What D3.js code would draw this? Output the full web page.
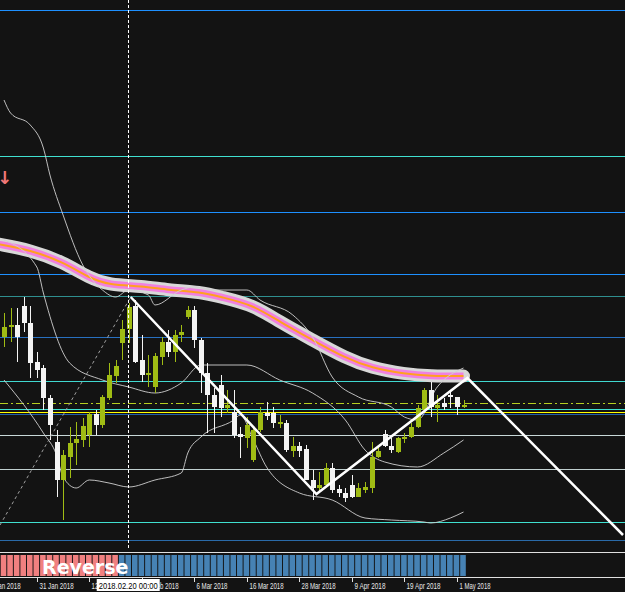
<!DOCTYPE html>
<html><head><meta charset="utf-8">
<script src="https://cdn.jsdelivr.net/npm/d3@7"></script>
<style>body{margin:0;background:#131313;overflow:hidden}</style>
</head><body>
<svg id="chart" width="625" height="592"></svg>
<script>
// candles: [open, high, low, close] in points
var candles = [
 [263,287,253,273],[273,292,258,275],[275,292,238,263],[294,303,268,277],[277,294,222,237],
 [238,248,222,230],[232,235,190,202],[202,205,160,175],[158,170,103,120],[120,150,80,145],
 [143,173,122,157],[157,178,135,161],[160,182,153,174],[165,188,153,186],[186,190,165,175],
 [175,205,172,203],[202,237,200,225],[224,240,217,234],[257,280,240,271],[271,297,257,293],
 [294,300,237,238],[240,265,218,225],[225,245,213,227],[213,247,207,244],[243,263,235,258],
 [258,270,243,248],[248,270,238,265],[265,275,258,268],[283,294,281,290],[290,294,252,260],
 [260,262,207,227],[227,237,167,205],[205,212,167,193],[215,225,183,192],[192,210,187,195],
 [188,210,162,165],[166,173,142,163],[162,183,152,175],[140,172,138,170],[170,193,168,188],
 [187,198,180,184],[187,193,172,177],[177,185,172,178],[177,180,148,150],[149,163,143,154],
 [154,158,143,149],[151,155,120,120],[120,130,100,112],[112,128,108,115],[115,137,113,132],
 [132,137,107,110],[111,115,103,107],[107,112,98,102],[115,125,102,103],[103,117,103,112],
 [110,118,107,113],[112,158,107,143],[143,153,142,149],[166,170,153,154],[154,162,147,150],
 [148,163,147,162],[162,167,157,163],[163,177,162,173],[173,195,172,192],[190,212,188,210],
 [210,218,183,193],[192,205,178,195],[197,202,190,193],[205,208,192,203],[203,203,185,193],
 [193,200,192,195]
];
var upperBand = [[0,500],[1,487],[4,475],[6,452],[7,425],[9,385],[12,335],[15,310],[17,303],[19,310],[22,305],[23,295],[27,310],[29,313],[32,310],[37,310],[39,300],[44,285],[47,263],[50,223],[54,203],[59,193],[61,183],[63,180],[66,213],[70,232]];
var middleBand = [[0,360],[5,333],[6,307],[10,237],[15,220],[19,213],[23,207],[27,217],[30,235],[37,235],[42,220],[47,207],[52,180],[55,150],[58,138],[63,133],[67,147],[70,160]];
var lowerBand = [[0,220],[6,167],[8,145],[9,123],[11,112],[13,120],[16,117],[19,113],[23,120],[27,127],[28,147],[30,163],[35,180],[36,185],[38,160],[40,133],[45,107],[50,100],[55,82],[59,80],[64,78],[65,77],[68,82],[70,88]];
var maLine = [[-1,356],[4,350],[9,338],[13,322],[16,315],[21,314],[25,310],[30,308],[33,303],[38,295],[42,278],[47,260],[52,242],[56,232],[61,226],[65,224],[70,224]];
var zigzag = [[19.3,303],[47.6,106],[70.6,222],[94.3,65]];
var dashedLeg = [[-0.6,75],[19.3,303]];
var levels = [
 {v:590,c:"#1e90ff"},{v:444,c:"#40e0d0"},{v:388,c:"#1e90ff"},{v:326,c:"#1e90ff"},
 {v:304,c:"#2f8f8f"},{v:263,c:"#2870c0"},{v:219,c:"#40d8d0"},{v:191,c:"#40e0d0"},
 {v:188,c:"#ffff00"},{v:186,c:"#2060a8"},{v:165,c:"#c8d8d8"},{v:131,c:"#c0d0d0"},
 {v:78,c:"#40e0d0"},{v:60,c:"#2a6aa8"}
];
var dashLevel = 197;
var tickIdx = [-3,5,13,21,29,37,45,53,61,69];
var tickLabels = ["19 Jan 2018","31 Jan 2018","12 Feb 2018","22 Feb 2018","6 Mar 2018","16 Mar 2018","28 Mar 2018","9 Apr 2018","19 Apr 2018","1 May 2018"];
var trendSwitch = 18; // histogram turns from red to blue
var cursorIdx = 19;

var svg = d3.select("#chart");
var W = 625;
var x = d3.scaleLinear().domain([0, 70]).range([4, 463.5]);
var y = d3.scaleLinear().domain([0, 600]).range([600, 0]);

svg.append("rect").attr("width", W).attr("height", 592).attr("fill", "#131313");

// horizontal levels
svg.selectAll(".lvl").data(levels).enter().append("line")
  .attr("x1", 0).attr("x2", W)
  .attr("y1", function(d){return y(d.v)+0.5;}).attr("y2", function(d){return y(d.v)+0.5;})
  .attr("stroke", function(d){return d.c;}).attr("stroke-width", 1).attr("shape-rendering", "crispEdges");
svg.append("line").attr("x1", 0).attr("x2", W).attr("y1", y(dashLevel)+0.5).attr("y2", y(dashLevel)+0.5)
  .attr("stroke", "#b8d020").attr("stroke-dasharray", "8,3,2,3").attr("shape-rendering", "crispEdges");

// moving average thick band
var line = d3.line().x(function(d){return x(d[0]);}).y(function(d){return y(d[1]);}).curve(d3.curveBasis);
svg.append("path").attr("d", line(maLine)).attr("fill", "none").attr("stroke", "#d8d8d8").attr("stroke-width", 13).attr("stroke-linecap", "round");
svg.append("path").attr("d", line(maLine)).attr("fill", "none").attr("stroke", "#f080e0").attr("stroke-width", 7);
svg.append("path").attr("d", line(maLine)).attr("fill", "none").attr("stroke", "#ffa020").attr("stroke-width", 2);

// bands
var bline = d3.line().x(function(d){return x(d[0]);}).y(function(d){return y(d[1]);}).curve(d3.curveMonotoneX);
[upperBand, middleBand, lowerBand].forEach(function(b){
  svg.append("path").attr("d", bline(b)).attr("fill", "none").attr("stroke", "#d0d0d0").attr("stroke-width", 0.9);
});

// candles
var up = "#a0bc14", dn = "#f4f4f4";
var g = svg.append("g");
g.selectAll(".wick").data(candles).enter().append("line")
  .attr("x1", function(d,i){return Math.round(x(i))+0.5;}).attr("x2", function(d,i){return Math.round(x(i))+0.5;})
  .attr("y1", function(d){return y(d[1]);}).attr("y2", function(d){return y(d[2]);})
  .attr("stroke", function(d){return d[3] >= d[0] ? up : dn;});
g.selectAll(".body").data(candles).enter().append("rect")
  .attr("x", function(d,i){return Math.round(x(i))-2;}).attr("width", 5)
  .attr("y", function(d){return y(Math.max(d[0], d[3]));})
  .attr("height", function(d){return Math.max(2, Math.abs(d[0]-d[3]));})
  .attr("fill", function(d){return d[3] >= d[0] ? up : dn;});

// zigzag
svg.append("path").attr("d", d3.line().x(function(d){return x(d[0]);}).y(function(d){return y(d[1]);})(dashedLeg))
  .attr("fill", "none").attr("stroke", "#a0a0a0").attr("stroke-dasharray", "3,3");
svg.append("path").attr("d", d3.line().x(function(d){return x(d[0]);}).y(function(d){return y(d[1]);})(zigzag))
  .attr("fill", "none").attr("stroke", "#ffffff").attr("stroke-width", 2.5);

// cursor line
svg.append("line").attr("x1", Math.round(x(cursorIdx))-0.5).attr("x2", Math.round(x(cursorIdx))-0.5)
  .attr("y1", 0).attr("y2", 578).attr("stroke", "#ffffff").attr("stroke-dasharray", "3,2");

// arrow
svg.append("text").attr("x", -3).attr("y", 184).attr("fill", "#f07878").attr("font-size", 18)
  .attr("font-weight", "bold").attr("font-family", "DejaVu Sans").text("↓");

// lower panel
svg.append("rect").attr("x", 0).attr("y", 548).attr("width", W).attr("height", 44).attr("fill", "#131313");
svg.append("line").attr("x1", 0).attr("x2", W).attr("y1", 552.5).attr("y2", 552.5).attr("stroke", "#e0e0e0");
svg.append("line").attr("x1", 0).attr("x2", W).attr("y1", 577.5).attr("y2", 577.5).attr("stroke", "#e0e0e0");
svg.selectAll(".hist").data(candles).enter().append("rect")
  .attr("x", function(d,i){return x(i)-3.3;}).attr("width", 5.6)
  .attr("y", 555).attr("height", 21)
  .attr("fill", function(d,i){return i < trendSwitch ? "#f08080" : "#4682b4";});
svg.append("text").attr("x", 42).attr("y", 574).attr("fill", "#ffffff").attr("font-size", 19)
  .attr("font-weight", "bold").attr("font-family", "DejaVu Sans").text("Reverse");

// date axis
var ax = svg.append("g");
tickIdx.forEach(function(t, k){
  var tx = Math.round(x(t)) + 0.5;
  ax.append("line").attr("x1", tx).attr("x2", tx).attr("y1", 577).attr("y2", 582).attr("stroke", "#e0e0e0");
  ax.append("text").attr("x", tx + 2).attr("y", 589).attr("fill", "#e8e8e8").attr("font-size", 9)
    .attr("font-family", "Liberation Sans")
    .attr("textLength", tickLabels[k].length * 3.1).attr("lengthAdjust", "spacingAndGlyphs")
    .text(tickLabels[k]);
});
var cx = x(cursorIdx);
ax.append("rect").attr("x", cx - 32).attr("y", 579).attr("width", 63).attr("height", 12).attr("fill", "#ffffff");
ax.append("text").attr("x", cx - 30).attr("y", 589).attr("fill", "#000").attr("font-size", 9)
  .attr("font-family", "Liberation Sans").attr("textLength", 59).attr("lengthAdjust", "spacingAndGlyphs")
  .text("2018.02.20 00:00");
</script>
</body></html>
